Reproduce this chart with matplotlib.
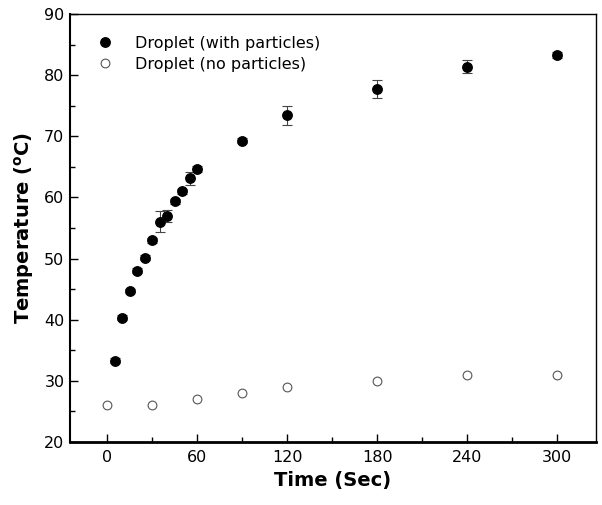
import matplotlib
matplotlib.use("Agg")
import matplotlib.pyplot as plt
from matplotlib.ticker import MultipleLocator
from matplotlib.lines import Line2D

plt.rcParams['font.family'] = ['DejaVu Sans']

# Data
time_with = [5, 10, 15, 20, 25, 30, 35, 40, 45, 50, 55, 60, 90, 120, 180, 240, 300]
temp_with = [33.3, 40.3, 44.7, 48.0, 50.1, 53.0, 56.0, 57.0, 59.4, 61.0, 63.1, 64.7,
             69.3, 73.4, 77.7, 81.4, 83.3]
err_with = [0.4, 0.4, 0.4, 0.4, 0.4, 0.4, 1.7, 1.0, 0.4, 0.4, 1.0, 0.5,
            0.4, 1.5, 1.5, 1.1, 0.5]

time_no = [0, 30, 60, 90, 120, 180, 240, 300]
temp_no = [26.0, 26.0, 27.0, 28.0, 29.0, 30.0, 31.0, 31.0]

xticks = [0, 60, 120, 180, 240, 300]
yticks = [20, 30, 40, 50, 60, 70, 80, 90]

fig = plt.figure(figsize=(6.02, 5.05), dpi=100)
ax = fig.add_axes([0.1163, 0.1248, 0.8737, 0.8475])

ax.errorbar(time_with, temp_with, yerr=err_with, fmt='o', color='black',
            markersize=6.8, ecolor='#444444', elinewidth=0.8, capsize=3.5,
            capthick=0.8, zorder=3)
ax.plot(time_no, temp_no, 'o', markerfacecolor='white', markeredgecolor='#555555',
        markeredgewidth=0.8, markersize=6.3, linestyle='none', zorder=3)

ax.set_xlim(-25, 326)
ax.set_ylim(20, 90)
ax.set_xticks(xticks)
ax.set_yticks(yticks)
ax.xaxis.set_minor_locator(MultipleLocator(30))
ax.yaxis.set_minor_locator(MultipleLocator(5))
ax.tick_params(which='both', direction='in', labelsize=11.5, colors='black')
ax.tick_params(which='major', length=6, width=1.0)
ax.tick_params(which='minor', length=3.5, width=1.0)
ax.tick_params(axis='x', pad=6)
ax.tick_params(axis='y', pad=4)

ax.spines['bottom'].set_linewidth(2.0)
ax.spines['left'].set_linewidth(1.5)
ax.spines['top'].set_linewidth(1.0)
ax.spines['right'].set_linewidth(1.0)

ax.set_xlabel('Time (Sec)', fontsize=14, fontweight='bold', labelpad=4)
ax.set_ylabel(r'Temperature ($^{\mathregular{o}}$C)', fontsize=14, fontweight='bold', labelpad=6)

handles = [
    Line2D([], [], marker='o', linestyle='none', color='black', markersize=6.8),
    Line2D([], [], marker='o', linestyle='none', markerfacecolor='white',
           markeredgecolor='#555555', markeredgewidth=0.8, markersize=6.3),
]
labels = ['Droplet (with particles)', 'Droplet (no particles)']
ax.legend(handles, labels, loc='upper left', frameon=False, fontsize=11.5,
          handletextpad=1.1, borderaxespad=0.5, labelspacing=0.4, handlelength=1.5,
          bbox_to_anchor=(0.017, 0.983))

fig.savefig('out.png', dpi=100)
